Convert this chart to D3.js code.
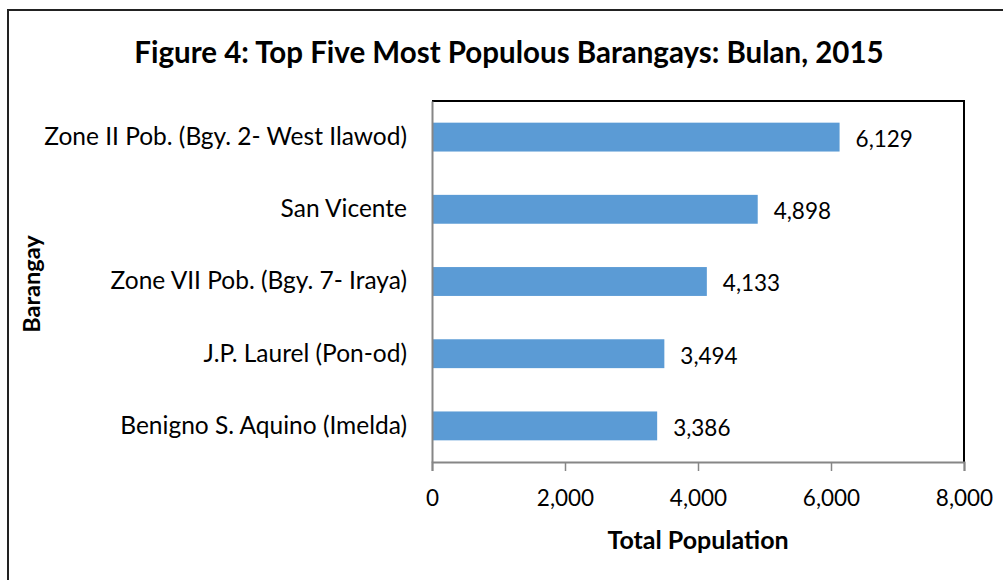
<!DOCTYPE html>
<html>
<head>
<meta charset="utf-8">
<script src="https://cdn.jsdelivr.net/npm/d3@7"></script>
<style>
  body { margin: 0; background: #fff; }
  text { font-family: Lato, "Open Sans", sans-serif; fill: #000; }
</style>
</head>
<body>
<svg id="chart" width="1003" height="580"></svg>
<script>
let barangays = [
  "Zone II Pob. (Bgy. 2- West Ilawod)",
  "San Vicente",
  "Zone VII Pob. (Bgy. 7- Iraya)",
  "J.P. Laurel (Pon-od)",
  "Benigno S. Aquino (Imelda)"
]
let population = [6129, 4898, 4133, 3494, 3386]
let xTicks = [0, 2000, 4000, 6000, 8000]

let data = barangays.map((name, i) => ({ name: name, value: population[i] }))

let svg = d3.select("#chart")
let margin = { top: 101, right: 39, bottom: 118, left: 432 }
let width = 1003
let height = 580

// outer frame
svg.append("rect")
    .attr("x", 8)
    .attr("y", 10)
    .attr("width", 1010)
    .attr("height", 600)
    .style("fill", "none")
    .style("stroke", "#222")
    .style("stroke-width", 2)

let x = d3.scaleLinear()
    .domain([0, 8000])
    .range([margin.left, width - margin.right])

let y = d3.scaleBand()
    .domain(barangays)
    .range([margin.top, height - margin.bottom])
    .paddingInner(0.6)
    .paddingOuter(0.3)

// plot area border (top + right black)
svg.append("path")
    .attr("d", `M${x(0)},${margin.top}H${x(8000)}V${height - margin.bottom}`)
    .style("fill", "none")
    .style("stroke", "#000")
    .style("stroke-width", 2)

svg.append("g")
    .selectAll("rect")
    .data(data)
    .join("rect")
    .attr("x", x(0))
    .attr("y", d => y(d.name))
    .attr("width", d => x(d.value) - x(0))
    .attr("height", y.bandwidth())
    .style("fill", "#5b9bd5")

svg.append("g")
    .selectAll("text")
    .data(data)
    .join("text")
    .attr("x", d => x(d.value) + 16)
    .attr("y", d => y(d.name) + y.bandwidth() / 2 + 2)
    .attr("dy", "0.35em")
    .style("font-size", "22.5px")
    .text(d => d3.format(",")(d.value))

let xAxis = svg.append("g")
    .attr("transform", `translate(0,${height - margin.bottom})`)
    .call(d3.axisBottom(x).tickValues(xTicks).tickFormat(d3.format(",")).tickSize(9).tickPadding(19))
xAxis.select(".domain").style("stroke", "#868686").style("stroke-width", 2)
xAxis.selectAll(".tick line").style("stroke", "#868686").style("stroke-width", 1.5)
xAxis.selectAll("text").style("font-size", "22.5px").style("fill", "#000").attr("font-family", null)

let yAxis = svg.append("g")
    .attr("transform", `translate(${margin.left},0)`)
    .call(d3.axisLeft(y).tickSize(0).tickPadding(25))
yAxis.select(".domain").style("stroke", "#868686").style("stroke-width", 2)
yAxis.selectAll("text").style("font-size", "24.5px").style("fill", "#000").attr("font-family", null)

svg.append("text")
    .attr("x", 509)
    .attr("y", 63)
    .attr("text-anchor", "middle")
    .style("font-size", "29.5px")
    .style("font-weight", "bold")
    .text("Figure 4: Top Five Most Populous Barangays: Bulan, 2015")

svg.append("text")
    .attr("x", 698)
    .attr("y", 549)
    .attr("text-anchor", "middle")
    .style("font-size", "25px")
    .style("font-weight", "bold")
    .text("Total Population")

svg.append("text")
    .attr("transform", "translate(40,284) rotate(-90)")
    .attr("text-anchor", "middle")
    .style("font-size", "23.5px")
    .style("font-weight", "bold")
    .text("Barangay")
</script>
</body>
</html>
